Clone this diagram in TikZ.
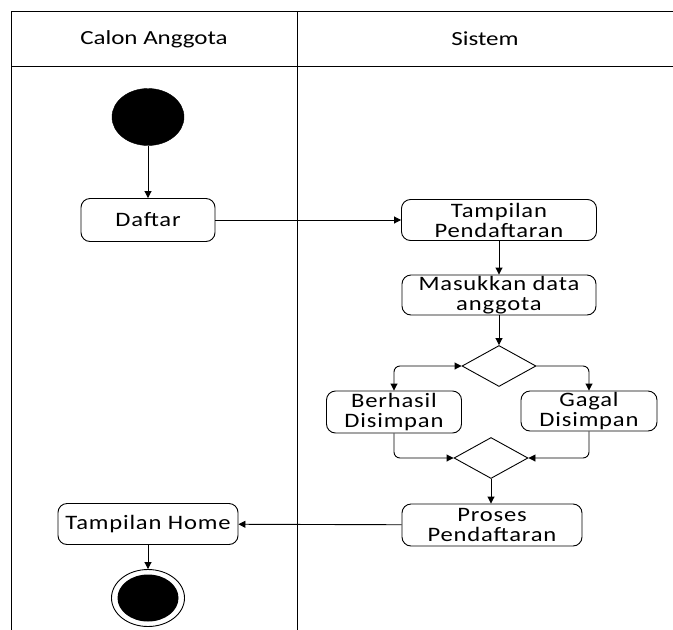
\documentclass[tikz,border=0pt]{standalone}
\usepackage{fontspec}
\setmainfont[FakeStretch=1.25]{Carlito}
\newfontfamily\actfont[FakeStretch=1.2,LetterSpace=4]{Carlito}
\usetikzlibrary{shapes.geometric,arrows.meta}
\begin{document}
\begin{tikzpicture}[x=1pt,y=-1pt,
  lane/.style={line width=1pt},
  act/.style={draw,line width=0.9pt,rounded corners=9pt,align=center,inner sep=0pt,
    font=\actfont\fontsize{20.5}{20}\selectfont},
  dec/.style={draw,line width=0.9pt,diamond,inner sep=0pt,minimum width=74pt,minimum height=41pt},
  flow/.style={line width=0.9pt,-{Triangle[length=7pt,width=7pt]}},
  hdr/.style={font=\fontsize{20}{22}\selectfont}]
\useasboundingbox (0,0) rectangle (673,630);
% swimlanes
\draw[lane] (11,630) -- (11,11) -- (673,11);
\draw[lane] (11,66) -- (673,66);
\draw[lane] (297,11) -- (297,630);
\node[hdr] (h1) at (154,39) {Calon Anggota};
\node[hdr] (h2) at (485,39) {Sistem};
% nodes
\node[draw,fill=black,ellipse,minimum width=72pt,minimum height=57pt,inner sep=0pt] (start) at (148,117) {};
\node[act,minimum width=134pt,minimum height=43pt] (daftar) at (148,220) {Daftar};
\node[act,minimum width=195pt,minimum height=41pt] (tamp) at (499,220) {Tampilan\\Pendaftaran};
\node[act,minimum width=194pt,minimum height=40pt] (masuk) at (499,295) {Masukkan data\\anggota};
\node[dec] (d1) at (499,366) {};
\node[act,minimum width=135pt,minimum height=42pt] (ber) at (394,412) {Berhasil\\Disimpan};
\node[act,minimum width=136pt,minimum height=40pt] (gag) at (589,411) {Gagal\\Disimpan};
\node[dec] (d2) at (491,458) {};
\node[act,minimum width=180pt,minimum height=42pt] (proses) at (492,525) {Proses\\Pendaftaran};
\node[act,minimum width=180pt,minimum height=41pt] (home) at (148,524) {Tampilan Home};
\node[draw,ellipse,line width=0.9pt,minimum width=73pt,minimum height=57pt,inner sep=0pt] (end) at (148,598) {};
\node[fill=black,ellipse,minimum width=61pt,minimum height=47pt,inner sep=0pt] (endin) at (148,598) {};
% connectors
\draw[flow] (start) -- (daftar);
\draw[flow] (daftar) -- (tamp);
\draw[flow] (tamp) -- (masuk);
\draw[flow] (masuk.south -| d1.north) -- (d1.north);
\draw[line width=0.9pt,{Triangle[length=7pt,width=7pt]}-{Triangle[length=7pt,width=7pt]},rounded corners=6pt]
  (d1.west) -- (ber.north |- d1.west) -- (ber.north);
\draw[flow,rounded corners=6pt] (d1.east) -- (gag.north |- d1.east) -- (gag.north);
\draw[flow,rounded corners=6pt] (ber.south) -- (ber.south |- d2.west) -- (d2.west);
\draw[flow,rounded corners=6pt] (gag.south) -- (gag.south |- d2.east) -- (d2.east);
\draw[flow] (d2.south) -- (d2.south |- proses.north);
\draw[flow] (proses) -- (home);
\draw[flow] (home) -- (end);
\end{tikzpicture}
\end{document}
